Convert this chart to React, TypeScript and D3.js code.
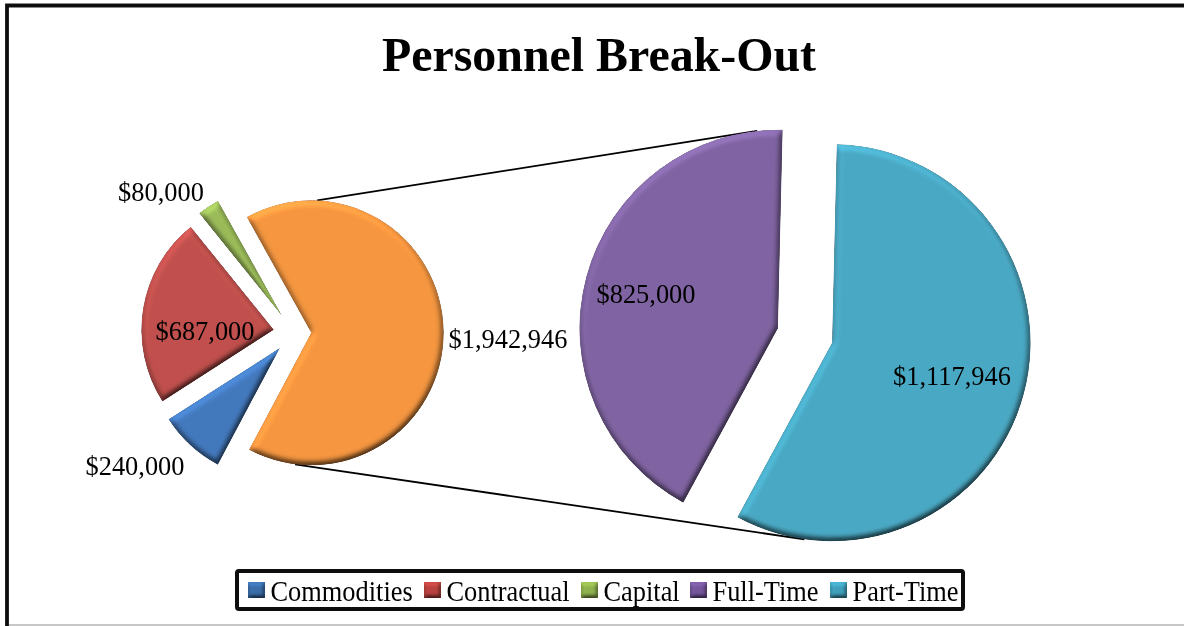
import React, { useEffect, useRef } from 'react';
import * as d3 from 'd3';

const width = 1184, height = 626;

// budget lines, main pie
const mainCategories = ['Commodities', 'Contractual', 'Capital', 'Personnel'];
const mainValues = [240000, 687000, 80000, 1942946];
const mainColors = ['#4379bd', '#c0504d', '#9bbb59', '#f59640'];
// personnel split, second pie
const detailCategories = ['Full-Time', 'Part-Time'];
const detailValues = [825000, 1117946];
const detailColors = ['#8064a2', '#4aa9c4'];

const legendLabels = ['Commodities', 'Contractual', 'Capital', 'Full-Time', 'Part-Time'];
const legendColors = ['#3a6ea8', '#b8423f', '#8fb04e', '#74569a', '#3f9fba'];
const legendX = [248, 424, 581, 690, 830];

const rad = (deg: number) => (deg * Math.PI) / 180;
const polar = (c: number[], r: number, a: number) => [c[0] + r * Math.sin(a), c[1] - r * Math.cos(a)];

function draw(svg: any) {
  const defs = svg.append('defs');
  const bevel = (id: string, blur: number, scale: number) => {
    const f = defs.append('filter').attr('id', id).attr('x', '-15%').attr('y', '-15%')
      .attr('width', '130%').attr('height', '130%').attr('color-interpolation-filters', 'sRGB');
    f.append('feGaussianBlur').attr('in', 'SourceAlpha').attr('stdDeviation', blur).attr('result', 'b');
    const l = f.append('feDiffuseLighting').attr('in', 'b').attr('surfaceScale', scale)
      .attr('diffuseConstant', 0.8).attr('lighting-color', '#fff').attr('result', 'light');
    l.append('feDistantLight').attr('azimuth', 250).attr('elevation', 60);
    f.append('feComposite').attr('in', 'SourceGraphic').attr('in2', 'light')
      .attr('operator', 'arithmetic').attr('k1', 1.444).attr('k2', 0).attr('k3', 0).attr('k4', 0).attr('result', 'lit');
    f.append('feComposite').attr('in', 'lit').attr('in2', 'SourceAlpha').attr('operator', 'in');
  };
  bevel('bevel', 3.4, 3.6);
  bevel('bevelSmall', 2.2, 2.4);
  defs.append('filter').attr('id', 'soft').append('feGaussianBlur').attr('stdDeviation', 0.45);

  const root = svg.append('g').attr('filter', 'url(#soft)')
    .style('font-family', '"Liberation Serif", serif').attr('fill', '#000');

  // frame: left and top rules, hairline at the bottom
  root.append('path').attr('d', `M7 ${height + 4}V5.5H${width + 4}`).attr('fill', 'none').attr('stroke', '#111').attr('stroke-width', 3.8);
  root.append('line').attr('x1', 9).attr('x2', width + 4).attr('y1', 625).attr('y2', 625).attr('stroke', '#b5b5b5').attr('stroke-width', 1.5);

  root.append('text').attr('x', 599).attr('y', 71).attr('text-anchor', 'middle')
    .attr('font-size', 47.9).attr('font-weight', 'bold').text('Personnel Break-Out');

  const mainCenter = [293.6, 333];
  const mainRadius = 132.5;
  const mainExplode = [20, 20, 20, 17.6];
  const detailCenter = [805, 335.5];
  const detailRadius = 198.5;
  const detailExplode = 28;

  const mainPie = d3.pie<number>().sort(null).startAngle(rad(208)).endAngle(rad(568))(mainValues);
  const detailPie = d3.pie<number>().sort(null).startAngle(rad(208.5)).endAngle(rad(568.5))(detailValues);

  const shift = (c: number[], d: any, e: number) => polar(c, e, (d.startAngle + d.endAngle) / 2);
  const orangeC = shift(mainCenter, mainPie[3], mainExplode[3]);
  const fullC = shift(detailCenter, detailPie[0], detailExplode);
  const partC = shift(detailCenter, detailPie[1], detailExplode);

  // series lines between the two pies
  const lines = [
    [polar(orangeC, mainRadius, rad(2.6)), polar(fullC, detailRadius, rad(-6))],
    [polar(orangeC, mainRadius, rad(187)), polar(partC, detailRadius, rad(188))],
  ];
  root.selectAll('line.series').data(lines).join('line').attr('class', 'series')
    .attr('x1', (d: any) => d[0][0]).attr('y1', (d: any) => d[0][1])
    .attr('x2', (d: any) => d[1][0]).attr('y2', (d: any) => d[1][1])
    .attr('stroke', '#000').attr('stroke-width', 1.8);

  const mainArc = d3.arc<any>().innerRadius(0).outerRadius(mainRadius);
  root.append('g').selectAll('path').data(mainPie).join('path')
    .attr('d', mainArc)
    .attr('data-name', (d: any, i: number) => mainCategories[i])
    .attr('fill', (d: any, i: number) => mainColors[i])
    .attr('filter', 'url(#bevel)')
    .attr('transform', (d: any, i: number) => `translate(${shift(mainCenter, d, mainExplode[i])})`);

  const detailArc = d3.arc<any>().innerRadius(0).outerRadius(detailRadius);
  root.append('g').selectAll('path').data(detailPie).join('path')
    .attr('d', detailArc)
    .attr('data-name', (d: any, i: number) => detailCategories[i])
    .attr('fill', (d: any, i: number) => detailColors[i])
    .attr('filter', 'url(#bevel)')
    .attr('transform', (d: any) => `translate(${shift(detailCenter, d, detailExplode)})`);

  // data labels
  const money = d3.format('$,');
  const mainLabelAt = [[135, 475], [205, 340], [161, 201], [508, 348]];
  const detailLabelAt = [[646, 303], [952, 385]];
  const labels = [
    ...mainValues.map((v, i) => ({ v, at: mainLabelAt[i] })),
    ...detailValues.map((v, i) => ({ v, at: detailLabelAt[i] })),
  ];
  root.append('g').selectAll('text').data(labels).join('text')
    .attr('x', (d: any) => d.at[0]).attr('y', (d: any) => d.at[1])
    .attr('text-anchor', 'middle').attr('font-size', 26.4)
    .text((d: any) => money(d.v));

  // legend
  root.append('rect').attr('x', 237).attr('y', 571).attr('width', 726).attr('height', 38).attr('rx', 2)
    .attr('fill', '#fff').attr('stroke', '#111').attr('stroke-width', 4);
  const legend = root.append('g').selectAll('g').data(legendLabels).join('g')
    .attr('transform', (d: any, i: number) => `translate(${legendX[i]},582)`);
  legend.append('rect').attr('width', 17).attr('height', 16)
    .attr('fill', (d: any, i: number) => legendColors[i]).attr('filter', 'url(#bevelSmall)');
  // the legend type is squeezed horizontally in the original
  legend.append('text').attr('transform', 'translate(22.5,19) scale(0.91,1)').attr('font-size', 29).text((d: any) => d);
}

export default function App() {
  const ref = useRef<SVGSVGElement>(null);
  useEffect(() => {
    const svg = d3.select(ref.current);
    svg.selectAll('*').remove();
    draw(svg);
  }, []);
  return (
    <svg ref={ref} width={width} height={height}
      style={{ position: 'absolute', left: 0, top: 0, background: '#fff' }} />
  );
}
